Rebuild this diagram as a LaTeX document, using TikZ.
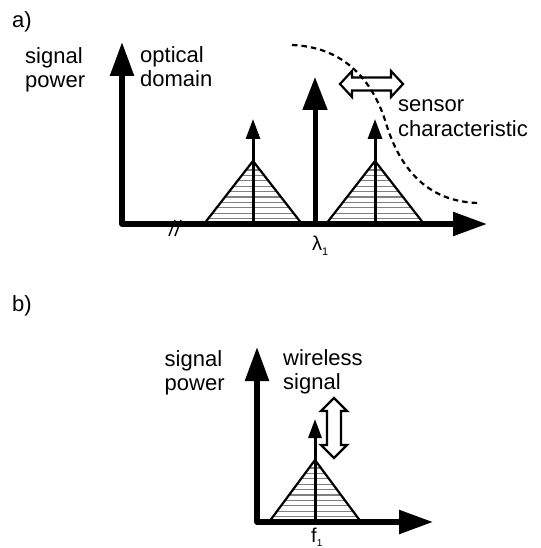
\documentclass[tikz,border=0pt]{standalone}
\usepackage{fontspec}
\setmainfont{Liberation Sans}
\usetikzlibrary{arrows.meta}
\tikzset{
  lbl/.style={inner sep=0pt, anchor=base west, font=\fontsize{22}{24.5}\selectfont},
  sym/.style={inner sep=0pt, anchor=base west, font=\fontsize{20}{20}\selectfont},
  axisline/.style={line width=5.5pt, line join=round,
     {Triangle[length=34pt,width=23pt]}-{Triangle[length=34pt,width=23pt]}},
  bigarrow/.style={line width=5pt, -{Triangle[length=33pt,width=24pt]}},
  smallarrow/.style={line width=3pt, -{Triangle[length=20pt,width=14pt]}},
  tri/.style={line width=2.2pt, line join=miter},
  hatch/.style={line width=1.3pt, black!50},
  breakmark/.style={line width=1.4pt},
  sensorcurve/.style={line width=2.2pt, dash pattern=on 5.5pt off 4pt},
  hollow/.style={line width=2.2pt, fill=white, line join=miter}
}
\begin{document}
\begin{tikzpicture}[x=1pt,y=-1pt]
\useasboundingbox (0,0) rectangle (540,548);

% ---------------- part a ----------------
\node[lbl] (la) at (12,28) {a)};
\node[lbl] (spa1) at (25,64) {signal};
\node[lbl] (spa2) at (25,88) {power};
\node[lbl] (od1) at (140,63) {optical};
\node[lbl] (od2) at (140,87) {domain};
\node[lbl] (sc1) at (398,112) {sensor};
\node[lbl] (sc2) at (398,137) {characteristic};
\node[sym] (lam) at (312,250) {λ\raisebox{-5pt}{\fontsize{11}{11}\selectfont 1}};

\coordinate (Oa) at (122,224);
\coordinate (Ya) at (122,42);
\coordinate (Xa) at (487,224);

% break mark
\coordinate (b1s) at (169,236); \coordinate (b1e) at (175,220);
\coordinate (b2s) at (175,236); \coordinate (b2e) at (181,220);
\draw[breakmark] (b1s) -- (b1e);
\draw[breakmark] (b2s) -- (b2e);

% hatched triangles
\foreach \cx/\ay/\hb/\by in {253/161/49/224, 375/161/49/224, 315/460/46/522} {
  \begin{scope}
    \clip (\cx-\hb,\by) -- (\cx,\ay) -- (\cx+\hb,\by) -- cycle;
    \foreach \k in {1,...,11}
      \draw[hatch] (\cx-\hb,\by-5.4*\k) -- (\cx+\hb,\by-5.4*\k);
  \end{scope}
  \draw[tri] (\cx-\hb,\by) -- (\cx,\ay) -- (\cx+\hb,\by);
}

\draw[axisline] (Ya) -- (Oa) -- (Xa);

% carrier arrows
\coordinate (L0) at (253,224); \coordinate (L1) at (253,119);
\coordinate (C0) at (315,224); \coordinate (C1) at (315,77);
\coordinate (R0) at (375,224); \coordinate (R1) at (375,119);
\draw[smallarrow] (L0) -- (L1);
\draw[bigarrow] (C0) -- (C1);
\draw[smallarrow] (R0) -- (R1);

% hollow horizontal double arrow
\draw[hollow] (340,84) -- (352,71) -- (352,77.5) -- (391,77.5) -- (391,71)
  -- (403,84) -- (391,97) -- (391,90.5) -- (352,90.5) -- (352,97) -- cycle;

% sensor characteristic
\coordinate (s0) at (292,45);
\coordinate (s1) at (385,120);
\coordinate (s2) at (481,203);
\draw[sensorcurve] (s0) .. controls (340,47) and (370,75) .. (s1)
  .. controls (398,165) and (425,203) .. (s2);

% ---------------- part b ----------------
\node[lbl] (lb) at (12,311) {b)};
\node[lbl] (spb1) at (164.5,366) {signal};
\node[lbl] (spb2) at (164.5,390) {power};
\node[lbl] (ws1) at (283,365) {wireless};
\node[lbl] (ws2) at (283,389) {signal};
\node[sym] (fone) at (311,542) {f\raisebox{-4pt}{\fontsize{10}{10}\selectfont 1}};

\coordinate (Ob) at (257,522);
\coordinate (Yb) at (257,347);
\coordinate (Xb) at (433,522);
\draw[axisline] (Yb) -- (Ob) -- (Xb);

\coordinate (F0) at (315,522); \coordinate (F1) at (315,419);
\draw[line width=3pt, -{Triangle[length=19pt,width=13pt]}] (F0) -- (F1);

% hollow vertical double arrow
\draw[hollow] (334,398) -- (347,411) -- (341,411) -- (341,445) -- (347,445)
  -- (334,458) -- (321,445) -- (327,445) -- (327,411) -- (321,411) -- cycle;

\end{tikzpicture}
\end{document}
